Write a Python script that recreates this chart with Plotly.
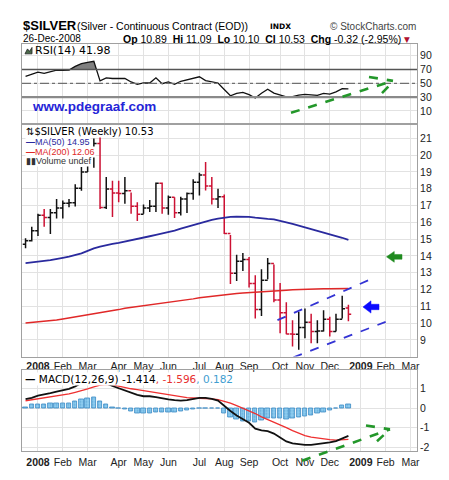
import plotly.graph_objects as go
import pandas as pd

# ---------------- data ----------------
dates = ['2007-12-24', '2007-12-31', '2008-01-07', '2008-01-14', '2008-01-21', '2008-01-28',
         '2008-02-04', '2008-02-11', '2008-02-18', '2008-02-25', '2008-03-03', '2008-03-10',
         '2008-03-17', '2008-03-24', '2008-03-31', '2008-04-07', '2008-04-14', '2008-04-21',
         '2008-04-28', '2008-05-05', '2008-05-12', '2008-05-19', '2008-05-26', '2008-06-02',
         '2008-06-09', '2008-06-16', '2008-06-23', '2008-06-30', '2008-07-07', '2008-07-14',
         '2008-07-21', '2008-07-28', '2008-08-04', '2008-08-11', '2008-08-18', '2008-08-25',
         '2008-09-01', '2008-09-08', '2008-09-15', '2008-09-22', '2008-09-29', '2008-10-06',
         '2008-10-13', '2008-10-20', '2008-10-27', '2008-11-03', '2008-11-10', '2008-11-17',
         '2008-11-24', '2008-12-01', '2008-12-08', '2008-12-15', '2008-12-22']

opens = [14.70, 14.90, 15.50, 16.42, 16.28, 16.57, 16.85, 17.14, 17.17, 18.03, 19.00, 20.40,
         20.70, 16.88, 17.98, 17.74, 17.72, 17.88, 16.96, 16.48, 16.86, 16.96, 18.33, 16.86,
         17.49, 16.57, 17.39, 17.72, 18.39, 18.82, 18.17, 17.39, 17.53, 15.34, 12.96, 13.68,
         13.78, 12.36, 10.81, 12.55, 13.55, 11.38, 10.62, 9.35, 9.33, 9.74, 10.04, 9.49,
         9.52, 10.23, 9.49, 10.23, 10.89]
highs = [15.05, 15.73, 16.51, 16.80, 16.80, 17.39, 17.30, 17.39, 18.27, 19.29, 20.90, 21.00,
         21.10, 18.70, 18.47, 18.47, 18.70, 17.78, 17.20, 17.06, 17.33, 18.37, 18.37, 17.59,
         17.49, 17.53, 17.78, 18.56, 18.95, 19.60, 18.70, 18.00, 17.65, 15.24, 14.07, 14.17,
         13.94, 12.85, 13.20, 13.88, 13.49, 12.38, 11.24, 10.17, 10.66, 10.86, 10.56, 10.17,
         10.76, 10.37, 10.56, 11.63, 11.09]
lows = [14.45, 14.85, 15.19, 15.73, 15.30, 16.22, 16.22, 16.90, 16.94, 17.88, 19.00, 19.25,
        16.80, 16.80, 16.32, 17.20, 17.10, 16.51, 16.08, 16.51, 16.61, 16.61, 16.51, 16.45,
        16.25, 16.41, 16.55, 17.35, 17.59, 17.90, 17.06, 16.86, 15.30, 12.32, 12.51, 13.10,
        12.12, 10.27, 10.42, 12.61, 11.24, 9.39, 9.33, 8.61, 8.41, 9.10, 8.80, 8.80,
        9.49, 9.20, 9.49, 10.27, 10.10]
closes = [14.90, 15.50, 16.42, 16.28, 16.57, 16.85, 17.14, 17.17, 18.03, 19.00, 20.40, 20.70,
          16.88, 17.98, 17.74, 17.72, 17.88, 16.96, 16.48, 16.86, 16.96, 18.33, 16.86, 17.49,
          16.57, 17.39, 17.72, 18.39, 18.82, 18.17, 17.39, 17.53, 15.34, 12.96, 13.68, 13.78,
          12.36, 10.81, 12.55, 13.55, 11.38, 10.62, 9.35, 9.33, 9.74, 10.04, 9.49, 9.52,
          10.23, 9.49, 10.23, 10.85, 10.53]

ma50 = [13.57, 13.60, 13.65, 13.70, 13.75, 13.80, 13.88, 13.95, 14.03, 14.15, 14.30, 14.45,
        14.55, 14.65, 14.72, 14.78, 14.85, 14.92, 14.99, 15.08, 15.17, 15.25, 15.33, 15.42,
        15.50, 15.62, 15.73, 15.83, 15.92, 16.04, 16.15, 16.22, 16.28, 16.32, 16.34, 16.34,
        16.33, 16.28, 16.22, 16.20, 16.17, 16.10, 16.00, 15.90, 15.80, 15.68, 15.56, 15.48,
        15.40, 15.30, 15.20, 15.08, 14.95]
ma200 = [10.00, 10.03, 10.06, 10.10, 10.13, 10.18, 10.24, 10.30, 10.35, 10.41, 10.47, 10.53,
         10.60, 10.67, 10.74, 10.80, 10.88, 10.93, 10.98, 11.03, 11.08, 11.12, 11.16, 11.20,
         11.25, 11.31, 11.37, 11.44, 11.50, 11.55, 11.60, 11.65, 11.70, 11.73, 11.76, 11.79,
         11.82, 11.85, 11.87, 11.90, 11.92, 11.94, 11.96, 11.98, 12.00, 12.01, 12.02, 12.03,
         12.04, 12.05, 12.05, 12.06, 12.06]

rsi = [60.0, 63.5, 66.2, 64.5, 66.2, 69.0, 69.0, 69.2, 74.5, 78.5, 80.5, 82.0,
       53.5, 58.0, 57.0, 57.0, 57.0, 52.0, 48.6, 50.5, 50.5, 58.0, 49.5, 52.0,
       48.6, 53.0, 55.0, 57.0, 59.5, 54.0, 52.0, 50.5, 41.0, 31.9, 35.5, 36.8,
       33.5, 28.6, 35.5, 41.4, 35.7, 33.0, 30.5, 30.8, 33.0, 34.0, 32.8, 32.6,
       35.5, 34.3, 37.5, 42.4, 41.98]

macd = [0.45, 0.52, 0.63, 0.68, 0.76, 0.84, 0.90, 0.98, 1.10, 1.27, 1.38, 1.45,
        1.30, 1.25, 1.12, 1.00, 0.88, 0.78, 0.67, 0.60, 0.60, 0.55, 0.48, 0.44,
        0.40, 0.38, 0.40, 0.45, 0.52, 0.52, 0.47, 0.38, 0.10, -0.15, -0.38, -0.55,
        -0.75, -1.05, -1.14, -1.17, -1.30, -1.50, -1.70, -1.80, -1.85, -1.87, -1.87, -1.84,
        -1.79, -1.75, -1.68, -1.55, -1.414]
signal = [0.37, 0.42, 0.47, 0.52, 0.56, 0.62, 0.67, 0.72, 0.80, 0.88, 0.97, 1.08,
          1.16, 1.20, 1.18, 1.12, 1.04, 0.98, 0.94, 0.88, 0.82, 0.77, 0.73, 0.68,
          0.62, 0.57, 0.53, 0.51, 0.50, 0.50, 0.47, 0.43, 0.35, 0.25, 0.12, -0.02,
          -0.12, -0.28, -0.45, -0.58, -0.72, -0.85, -1.00, -1.15, -1.28, -1.40, -1.48, -1.53,
          -1.58, -1.61, -1.63, -1.62, -1.596]
hist = [0.02, 0.18, 0.20, 0.20, 0.22, 0.22, 0.22, 0.25, 0.32, 0.42, 0.48, 0.55,
        0.32, 0.17, 0.05, -0.02, -0.08, -0.15, -0.25, -0.25, -0.25, -0.20, -0.22, -0.22,
        -0.20, -0.15, -0.10, -0.06, -0.02, 0.00, 0.00, -0.03, -0.28, -0.45, -0.57, -0.67,
        -0.70, -0.75, -0.62, -0.53, -0.53, -0.53, -0.57, -0.53, -0.45, -0.40, -0.37, -0.28,
        -0.20, -0.12, -0.03, 0.13, 0.182]

month_ticks = ['2008-01-07', '2008-02-04', '2008-03-03', '2008-04-07', '2008-05-05', '2008-06-02',
               '2008-07-07', '2008-08-04', '2008-09-01', '2008-10-06', '2008-11-03', '2008-12-01',
               '2009-01-05', '2009-02-02', '2009-03-02']
month_labels = ['<b>2008</b>', 'Feb', 'Mar', 'Apr', 'May', 'Jun', 'Jul', 'Aug', 'Sep', 'Oct',
                'Nov', 'Dec', '<b>2009</b>', 'Feb', 'Mar']

rsi_ticks = [10, 30, 50, 70, 90]
price_ticks = [9, 10, 11, 12, 13, 14, 15, 16, 17, 18, 19, 20, 21]
macd_ticks = [-2, -1, 0, 1]

# ---------------- layout helpers (pixel -> paper) ----------------
W, H = 449, 480
L, R, T, B = 22, 32, 44, 22
PW, PH = W - L - R, H - T - B


def px(x):
    return (x - L) / PW


def py(y):
    return (H - B - y) / PH


X_RANGE = ['2007-12-20', '2009-03-09 08:00']

RED = '#cc1133'
NAVY = '#2a2a9e'
GRID = '#e2e2e2'
FRAME = '#a0a0a0'

fig = go.Figure()

# ---------------- RSI panel ----------------
ts = pd.to_datetime(dates)
fx, fy = [ts[0]], [max(rsi[0], 70)]
for k in range(1, len(rsi)):
    a, b = rsi[k - 1], rsi[k]
    if (a - 70) * (b - 70) < 0:
        f = (70 - a) / (b - a)
        fx.append(ts[k - 1] + (ts[k] - ts[k - 1]) * f)
        fy.append(70)
    fx.append(ts[k])
    fy.append(max(b, 70))

fig.add_trace(go.Scatter(x=fx, y=[70] * len(fx), mode='lines', line=dict(width=0),
                         xaxis='x', yaxis='y', hoverinfo='skip', showlegend=False))
fig.add_trace(go.Scatter(x=fx, y=fy, mode='lines', line=dict(width=0), fill='tonexty',
                         fillcolor='#808080', xaxis='x', yaxis='y', hoverinfo='skip',
                         showlegend=False))
fig.add_trace(go.Scatter(x=dates, y=rsi, mode='lines', line=dict(color='#111111', width=1.3),
                         xaxis='x', yaxis='y', showlegend=False))

# ---------------- price panel ----------------
fig.add_trace(go.Scatter(x=dates, y=ma200, mode='lines', line=dict(color='#e02828', width=1.5),
                         xaxis='x2', yaxis='y2', showlegend=False))
fig.add_trace(go.Scatter(x=dates, y=ma50, mode='lines', line=dict(color=NAVY, width=1.8),
                         xaxis='x2', yaxis='y2', showlegend=False))
fig.add_trace(go.Ohlc(x=dates, open=opens, high=highs, low=lows, close=closes,
                      increasing=dict(line=dict(color='#111111', width=1.5)),
                      decreasing=dict(line=dict(color=RED, width=1.5)),
                      tickwidth=0.45, xaxis='x2', yaxis='y2', showlegend=False))

# ---------------- MACD panel ----------------
fig.add_trace(go.Bar(x=dates, y=hist, width=5 * 86400000,
                     marker=dict(color='#7cc2ea', line=dict(color='#3a8ac4', width=0.8),
                                 pattern=dict(shape='.', fgcolor='#3f8fc6', bgcolor='#8fcdf0',
                                              size=3, solidity=0.35)),
                     xaxis='x3', yaxis='y3', showlegend=False))
fig.add_trace(go.Scatter(x=dates, y=signal, mode='lines', line=dict(color='#ee3030', width=1.3),
                         xaxis='x3', yaxis='y3', showlegend=False))
fig.add_trace(go.Scatter(x=dates, y=macd, mode='lines', line=dict(color='#111111', width=1.8),
                         xaxis='x3', yaxis='y3', showlegend=False))

# ---------------- axes ----------------
xcommon = dict(type='date', range=X_RANGE, tickmode='array', tickvals=month_ticks,
               ticktext=month_labels, showgrid=True, gridcolor=GRID, gridwidth=1,
               showline=True, mirror=True, linecolor=FRAME, linewidth=1, ticks='',
               tickfont=dict(family='Liberation Sans, Arial', size=10.5, color='#222222'),
               zeroline=False, fixedrange=True, rangeslider=dict(visible=False))
ycommon = dict(side='right', showgrid=True, gridcolor=GRID, gridwidth=1, showline=True,
               mirror=True, linecolor=FRAME, linewidth=1, ticks='', zeroline=False,
               tickfont=dict(family='Liberation Sans, Arial', size=10.5, color='#222222'),
               fixedrange=True)

fig.update_layout(
    width=W, height=H, margin=dict(l=L, r=R, t=T, b=B, pad=0),
    paper_bgcolor='white', plot_bgcolor='white', showlegend=False, bargap=0,
    xaxis=dict(xcommon, domain=[0, 1], anchor='y', showticklabels=False),
    xaxis2=dict(xcommon, domain=[0, 1], anchor='y2', showticklabels=True, ticklabelstandoff=0),
    xaxis3=dict(xcommon, domain=[0, 1], anchor='y3', showticklabels=True, ticklabelstandoff=1),
    yaxis=dict(ycommon, domain=[py(124), py(44)], range=[-7.1, 107.1], tickmode='array',
               tickvals=rsi_ticks, anchor='x'),
    yaxis2=dict(ycommon, domain=[py(362), py(126)], range=[8.0, 21.82], tickmode='array',
                tickvals=price_ticks, anchor='x2'),
    yaxis3=dict(ycommon, domain=[0, py(376)], range=[-2.185, 1.915], tickmode='array',
                tickvals=macd_ticks, ticktext=['-2', '-1', '0', '1'], anchor='x3'),
)

shapes = []
# RSI reference lines
shapes.append(dict(type='line', xref='x domain', yref='y', x0=0, x1=1, y0=70, y1=70,
                   line=dict(color='#555555', width=1.5)))
shapes.append(dict(type='line', xref='x domain', yref='y', x0=0, x1=1, y0=30, y1=30,
                   line=dict(color='#8a8a8a', width=2.2)))
shapes.append(dict(type='line', xref='x domain', yref='y', x0=0, x1=1, y0=50, y1=50,
                   line=dict(color='#707070', width=1.2, dash='dashdot')))

# blue trend channel (price panel)
shapes.append(dict(type='line', xref='x2', yref='y2', x0='2008-10-03', y0=10.17,
                   x1='2009-01-16', y1=12.61, line=dict(color='#3434d4', width=1.8, dash='dash')))
shapes.append(dict(type='line', xref='x2', yref='y2', x0='2008-10-21', y0=7.96,
                   x1='2009-02-02', y1=10.07, line=dict(color='#3434d4', width=1.8, dash='dash')))

# green dashed arrows
GREEN = '#23972a'


def seg(x0, y0, x1, y1):
    return dict(type='line', xref='paper', yref='paper', x0=px(x0), y0=py(y0), x1=px(x1),
                y1=py(y1), line=dict(color=GREEN, width=2.6, dash='dash'))


shapes += [seg(291, 114, 393, 81.5), seg(369, 77.5, 393, 81.5), seg(382, 94, 394, 81.5)]
shapes += [seg(302, 468, 390, 436), seg(366, 432, 390, 436), seg(377, 448, 390, 436)]


def left_arrow(tx, ty, w, h, color):
    hl, hh, sh = w * 0.5, h / 2.0, h * 0.22
    pts = [(tx, ty), (tx + hl, ty - hh), (tx + hl, ty - sh), (tx + w, ty - sh),
           (tx + w, ty + sh), (tx + hl, ty + sh), (tx + hl, ty + hh)]
    path = 'M ' + ' L '.join('%.5f,%.5f' % (px(a), py(b)) for a, b in pts) + ' Z'
    return dict(type='path', xref='paper', yref='paper', path=path, fillcolor=color,
                line=dict(color=color, width=0.5))


shapes.append(left_arrow(386.5, 260.5, 15.5, 11, '#1f8a1f'))
shapes.append(left_arrow(363, 311.5, 16, 12.5, '#0a0aff'))

# small RSI icon
icon = [(25, 54), (27.5, 49), (29.5, 51.5), (32, 47.5), (32, 54)]
shapes.append(dict(type='path', xref='paper', yref='paper',
                   path='M ' + ' L '.join('%.5f,%.5f' % (px(a), py(b)) for a, b in icon) + ' Z',
                   fillcolor='#4a6a4a', line=dict(color='#222222', width=0.8)))

fig.update_layout(shapes=shapes)

# ---------------- text ----------------
ann = []


def txt(x, y, s, size, color='#000000', family='Liberation Sans, Arial', anchor='left',
        bg=None):
    d = dict(xref='paper', yref='paper', x=px(x), y=py(y), text=s, showarrow=False,
             xanchor=anchor, yanchor='middle', font=dict(family=family, size=size, color=color),
             borderpad=0)
    if bg:
        d['bgcolor'] = bg
    ann.append(d)


# header
txt(22, 25.5, '<b>$SILVER</b>', 13)
txt(76, 26, '(Silver - Continuous Contract (EOD))', 10.5)
txt(269, 26, '<b>INDX</b>', 7.5, family='DejaVu Sans')
txt(416.5, 26, '© StockCharts.com', 10, color='#444444', anchor='right')
txt(22, 38.5, '26-Dec-2008', 10)
txt(401.5, 38.5, '<b>Op</b> 10.89  <b>Hi</b> 11.09  <b>Lo</b> 10.10  <b>Cl</b> 10.53  '
                 '<b>Chg</b> -0.32 (-2.95%)', 10.5, anchor='right')
txt(402.5, 39, '▼', 7.5, color='#b01030', family='DejaVu Sans')

# RSI panel text
txt(34, 50.5, 'RSI(14) 41.98', 11, family='DejaVu Sans')
txt(30.5, 107.5, '<b>www.pdegraaf.com</b>', 13.5, color='#2424d8')

# price panel legend (white boxes hide bars behind, as in the original)
txt(25, 133.5, '⇅$SILVER (Weekly) 10.53', 10, family='DejaVu Sans', bg='white')
txt(25, 143.5, '<b>—</b>MA(50) 14.95', 9, color=NAVY, bg='white')
txt(25, 153.5, '<b>—</b>MA(200) 12.06', 9, color='#e02828', bg='white')
txt(25, 163.5, '▮▮Volume undef', 9, color='#333333', bg='white')

# MACD legend
txt(24, 384.5, '<b>—</b> MACD(12,26,9) -1.414<span style="color:#e83030">, -1.596</span>'
               '<span style="color:#3f9ed0">, 0.182</span>', 10.5, family='DejaVu Sans',
    bg='white')

fig.update_layout(annotations=ann)

fig.write_html('out.html')
